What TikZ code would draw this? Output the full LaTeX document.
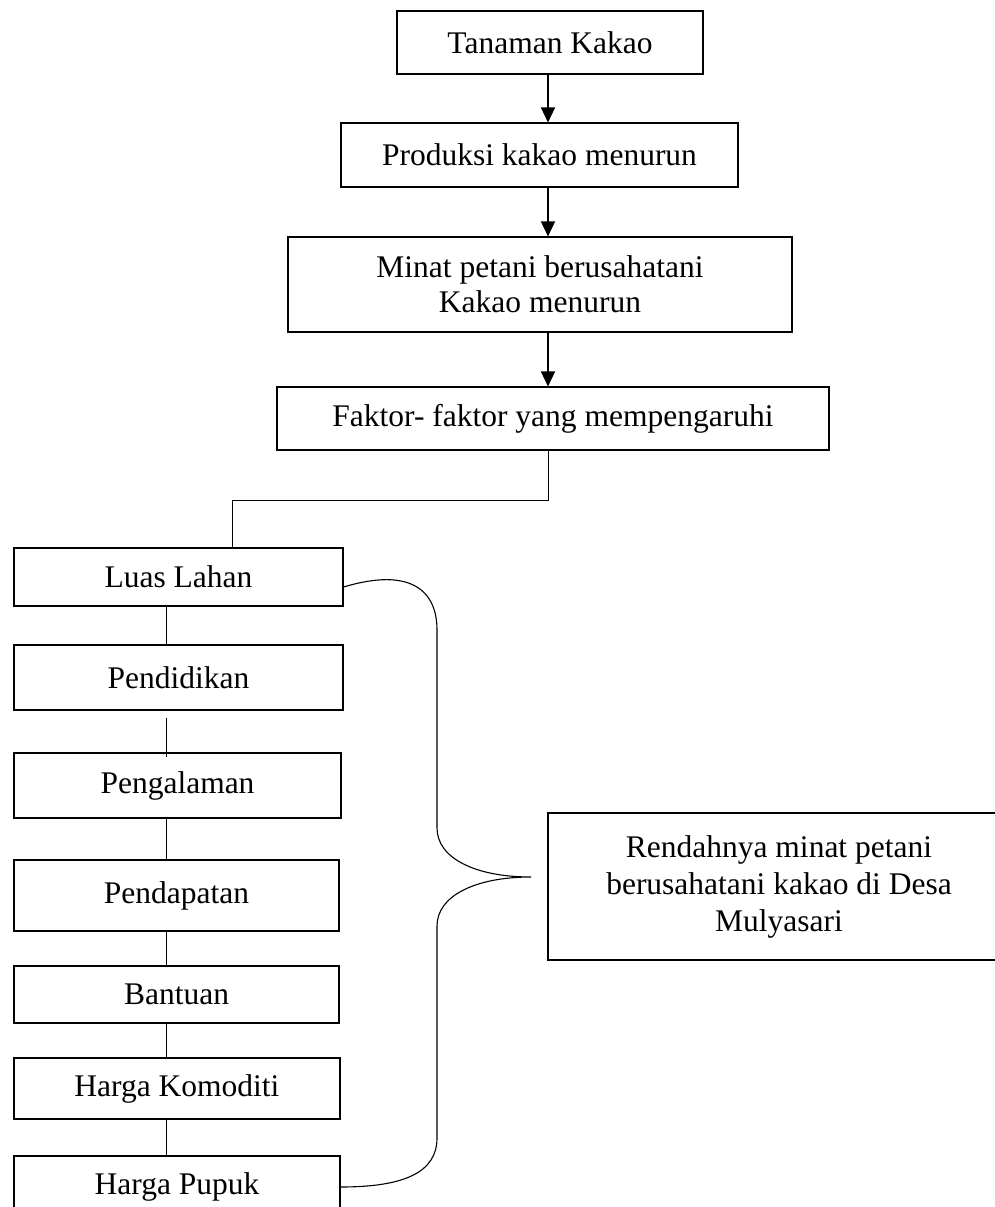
\documentclass[tikz,border=0pt]{standalone}
\usepackage{fontspec}
\setmainfont{Liberation Serif}
\usepackage{tikz}
\usetikzlibrary{arrows.meta}

\tikzset{
  kotak/.style={draw,line width=1.1pt,inner sep=0pt,align=center,
    font=\fontsize{31.5}{35}\selectfont},
  garis/.style={line width=0.9pt},
  panah/.style={line width=1.5pt,-{Triangle[length=15pt,width=14pt]}}
}

\begin{document}
\begin{tikzpicture}[x=1pt,y=-1pt]
  \useasboundingbox (0,0) rectangle (995,1207);
  \clip (0,0) rectangle (995,1207);
  % alur utama
  \node[kotak,minimum width=306,minimum height=63] (tanaman) at (550,42.5) {Tanaman Kakao};
  \node[kotak,minimum width=397,minimum height=64] (produksi) at (539.5,155) {Produksi kakao menurun};
  \node[kotak,minimum width=504,minimum height=95] (minat) at (540,284.5) {Minat petani berusahatani\\Kakao menurun};
  \node[kotak,minimum width=552,minimum height=63] (faktor) at (553,418.5) {Faktor- faktor yang mempengaruhi};
  % faktor-faktor
  \node[kotak,minimum width=329,minimum height=58] (luas) at (178.5,577) {Luas Lahan};
  \node[kotak,minimum width=329,minimum height=65] (pendidikan) at (178.5,677.5) {Pendidikan};
  \node[kotak,minimum width=327,minimum height=65] (pengalaman) at (177.5,785.5) {Pengalaman};
  \node[kotak,minimum width=325,minimum height=71] (pendapatan) at (176.5,895.5) {Pendapatan};
  \node[kotak,minimum width=325,minimum height=57] (bantuan) at (176.5,994.5) {Bantuan};
  \node[kotak,minimum width=326,minimum height=61] (komoditi) at (177,1088.5) {Harga Komoditi};
  \node[kotak,minimum width=326,minimum height=62] (pupuk) at (177,1187) {Harga Pupuk};
  % hasil
  \node[kotak,minimum width=462,minimum height=147,
    font=\fontsize{31.5}{37}\selectfont] (rendah) at (779,886.5)
    {Rendahnya minat petani\\berusahatani kakao di Desa\\Mulyasari};

  \coordinate (sumbu) at (548,0);
  \coordinate (lajur) at (166,0);
  \coordinate (siku) at (232,500);
  \coordinate (ujung) at (531,877);

  \draw[panah] (tanaman.south -| sumbu) -- (produksi.north -| sumbu);
  \draw[panah] (produksi.south -| sumbu) -- (minat.north -| sumbu);
  \draw[panah] (minat.south -| sumbu) -- (faktor.north -| sumbu);
  \draw[garis] (faktor.south -| sumbu) |- (siku) -- (siku |- luas.north);

  \draw[garis] (luas.south -| lajur) -- (pendidikan.north -| lajur);
  \draw[garis] ([yshift=-7pt]pendidikan.south -| lajur) -- ([yshift=-5pt]pengalaman.north -| lajur);
  \draw[garis] (pengalaman.south -| lajur) -- (pendapatan.north -| lajur);
  \draw[garis] (pendapatan.south -| lajur) -- (bantuan.north -| lajur);
  \draw[garis] (bantuan.south -| lajur) -- (komoditi.north -| lajur);
  \draw[garis] (komoditi.south -| lajur) -- (pupuk.north -| lajur);

  % kurung kurawal
  \draw[garis,line width=1.1pt] ([yshift=-10pt]luas.east)
    .. controls (410,567) and (437,590) .. (437,630)
    -- (437,828) .. controls (437,858) and (475,877) .. (ujung)
    .. controls (475,877) and (437,896) .. (437,926)
    -- (437,1138) .. controls (437,1172) and (405,1187) .. (pupuk.east);
\end{tikzpicture}
\end{document}
